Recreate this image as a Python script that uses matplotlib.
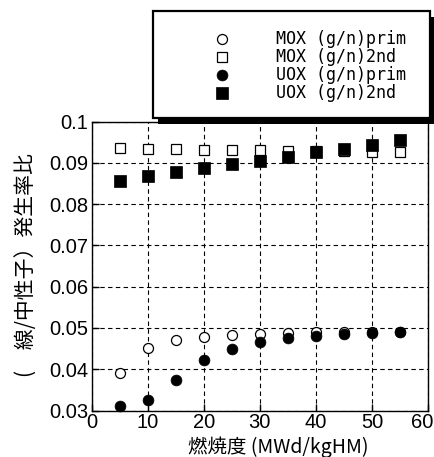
import matplotlib
matplotlib.use("Agg")
import matplotlib.pyplot as plt
from matplotlib.patches import Rectangle
from matplotlib.lines import Line2D
from matplotlib.ticker import FuncFormatter
from matplotlib.transforms import ScaledTranslation

burnup = [5, 10, 15, 20, 25, 30, 35, 40, 45, 50, 55]
mox_prim = [0.0391, 0.0451, 0.0470, 0.0478, 0.0483, 0.0486, 0.0488, 0.0489, 0.0490, 0.0490, 0.0490]
mox_2nd = [0.0936, 0.0934, 0.0933, 0.0932, 0.0931, 0.0931, 0.0929, 0.0928, 0.0928, 0.0926, 0.0926]
uox_prim = [0.0310, 0.0326, 0.0373, 0.0422, 0.0450, 0.0466, 0.0475, 0.0481, 0.0485, 0.0487, 0.0489]
uox_2nd = [0.0857, 0.0867, 0.0878, 0.0888, 0.0898, 0.0905, 0.0915, 0.0925, 0.0933, 0.0944, 0.0955]
labels = ["MOX (g/n)prim", "MOX (g/n)2nd", "UOX (g/n)prim", "UOX (g/n)2nd"]
x_ticks = [0, 10, 20, 30, 40, 50, 60]
y_ticks = [0.03, 0.04, 0.05, 0.06, 0.07, 0.08, 0.09, 0.1]
xlabel = "燃焼度 (MWd/kgHM)"
ylabel = "(\u3000線/中性子）発生率比"

W, H = 435, 457
fig = plt.figure(figsize=(W / 100, H / 100), dpi=100)
ax = fig.add_axes([91.7 / W, 1 - 410.5 / H, (428 - 91.7) / W, (410.5 - 121.5) / H])

styles = [
    dict(marker="o", mfc="white", mec="black", ms=7.2, mew=0.9),
    dict(marker="s", mfc="white", mec="black", ms=7.2, mew=0.9),
    dict(marker="o", mfc="black", mec="black", ms=7.8, mew=0.5),
    dict(marker="s", mfc="black", mec="black", ms=8.6, mew=0.5),
]
series = [mox_prim, mox_2nd, uox_prim, uox_2nd]
order = [1, 3, 0, 2]
for i in order:
    ax.plot(burnup, series[i], linestyle="none", clip_on=False, zorder=3 + i, **styles[i])

ax.set_xlim(0, 60)
ax.set_ylim(0.03, 0.1)
ax.set_xticks(x_ticks)
ax.set_yticks(y_ticks)
ax.yaxis.set_major_formatter(FuncFormatter(lambda v, p: "%g" % v))
ax.grid(True, color="black", linestyle=(0, (4, 3)), linewidth=0.8)
ax.set_axisbelow(True)
for s in ax.spines.values():
    s.set_linewidth(1.0)
ax.tick_params(direction="in", length=5, width=1.0, labelsize=14.5)
ax.tick_params(axis="y", pad=2.4)
ax.tick_params(axis="x", pad=1.5)
for lab in ax.get_xticklabels() + ax.get_yticklabels():
    lab.set_family("Liberation Sans")
last = ax.xaxis.get_major_ticks()[-1].label1
last.set_transform(last.get_transform() + ScaledTranslation(-6 / 100, 0, fig.dpi_scale_trans))

cjk = ["Noto Sans CJK JP", "DejaVu Sans"]
fig.text(278 / W, 1 - 447 / H, xlabel, ha="center", va="center", fontsize=14, family=cjk)
fig.text(26.5 / W, 1 - 265 / H, ylabel, ha="center", va="center", rotation=90, fontsize=15, family=cjk)

# legend box with shadow
bx0, bx1, by0, by1 = 153.5, 430.5, 11.5, 118
sh = Rectangle(((bx0 + 5) / W, 1 - (by1 + 6) / H), (bx1 - bx0) / W, (by1 - by0) / H,
               transform=fig.transFigure, facecolor="black", edgecolor="black", lw=0, zorder=10)
fig.add_artist(sh)
box = Rectangle((bx0 / W, 1 - by1 / H), (bx1 - bx0) / W, (by1 - by0) / H,
                transform=fig.transFigure, facecolor="white", edgecolor="black", lw=1.6, zorder=11)
fig.add_artist(box)
rows = [39, 56.5, 74.5, 92.5]
for i, (yy, lab) in enumerate(zip(rows, labels)):
    st = dict(styles[i])
    fig.add_artist(Line2D([222 / W], [1 - yy / H], transform=fig.transFigure, linestyle="none", zorder=12, **st))
    fig.text(276 / W, 1 - yy / H, lab, ha="left", va="center", fontsize=12,
             family="DejaVu Sans Mono", zorder=12)

fig.savefig("out.png", dpi=100)
